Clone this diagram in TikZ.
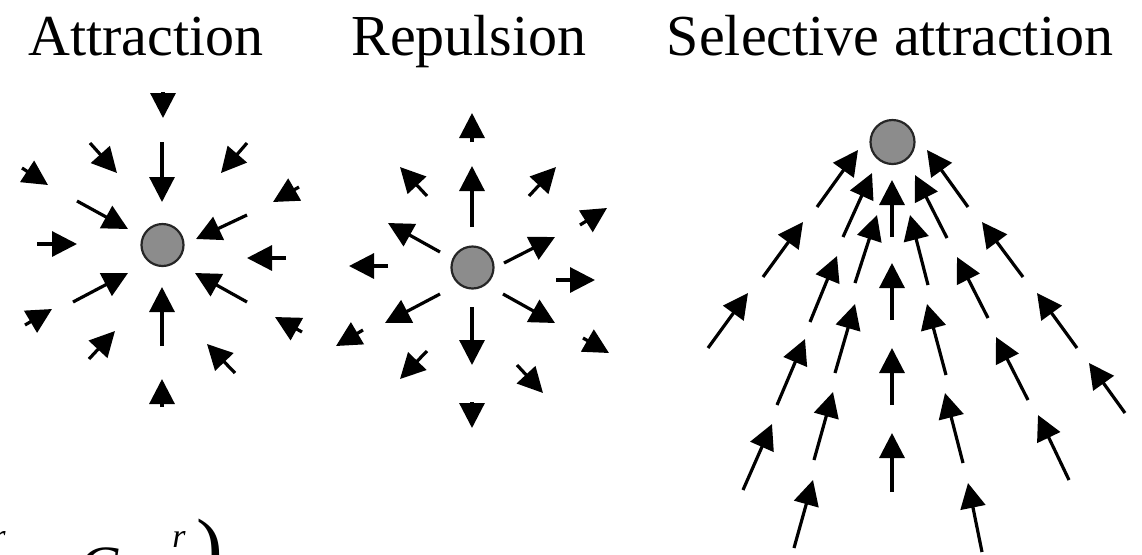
\documentclass[tikz,border=0pt]{standalone}
\usepackage{fontspec}
\setmainfont{Liberation Serif}
\usetikzlibrary{arrows.meta}
\tikzset{
  vec/.style={-{Triangle[length=12.5pt, width=12.5pt]}, line width=1.6pt},
  ball/.style={circle, draw=black!85, fill=black!45, line width=1.1pt, minimum size=21pt, inner sep=0pt},
  titulo/.style={font=\fontsize{29}{34}\selectfont, anchor=base},
  formula/.style={anchor=base west, inner sep=0pt}
}
\begin{document}
\begin{tikzpicture}[x=0.5pt, y=-0.5pt]
        \useasboundingbox (0,0) rectangle (1142,554);
        \clip (0,0) rectangle (1142,554);

        % Titulos
        \node[titulo] (tatr) at (146,55) {Attraction};
        \node[titulo] (trep) at (469,55) {Repulsion};
        \node[titulo] (tsel) at (890,55) {Selective attraction};

        % Atraccion
        \node[ball] (catr) at (162.5,245) {};
        \foreach \xa/\ya/\xb/\yb in {163/92/163/118, 162/142/162/202, 90/143/117/173, 22/168/48/185,
            77/201/128/229, 37/244/77/244, 73/302/128/273, 25/325/52/309, 89/359/115/331,
            162/346/162/287, 162/407/162/379, 235/373/207/344, 302/332/275/317, 247/302/195/273,
            286/258/247/258, 247/215/196/239, 299/187/273/202, 247/143/221/173}
            \draw[vec] (\xa,\ya) -- (\xb,\yb);

        % Repulsion
        \node[ball] (crep) at (472.5,267.5) {};
        \foreach \xa/\ya/\xb/\yb in {472/142/472/113, 472/227/472/166, 427/196/400/167, 529/196/556/167,
            580/225/607/208, 440/252/388/223, 504/263/555/237, 388/266/349/266, 556/280/595/280,
            440/294/385/323, 503/294/555/323, 363/330/336/346, 583/338/609/353, 472/307/472/365,
            427/351/400/379, 517/365/543/393, 472/402/472/428}
            \draw[vec] (\xa,\ya) -- (\xb,\yb);

        % Atraccion selectiva
        \node[ball, minimum size=22pt] (csel) at (892.5,142) {};
        \foreach \xa/\ya/\xb/\yb in {892/237/892/180, 892/320/892/263, 892/405/892/348, 892/492/892/433,
            843/237/872/173, 855/283/877/215, 810/322/837/256, 835/373/855/304, 777/405/805/339,
            814/460/833/392, 743/490/772/424, 794/548/813/480, 817/207/858/150, 763/277/803/222,
            708/348/748/293,
            947/238/915/175, 968/207/927/150, 928/285/910/215, 988/318/957/257, 1023/277/982/222,
            946/375/927/304, 1028/400/996/337, 1077/348/1037/293, 963/463/945/393, 1069/480/1038/415,
            1125/413/1089/363, 982/552/968/483}
            \draw[vec] (\xa,\ya) -- (\xb,\yb);

        % Formula cortada abajo
        \node[formula, font=\fontsize{17}{20}\selectfont\itshape] (fr1) at (-8,547) {r};
        \node[formula, font=\fontsize{30}{36}\selectfont\itshape] (fc) at (78,587) {C};
        \node[formula, font=\fontsize{17}{20}\selectfont\itshape] (fr2) at (172,547) {r};
        \node[formula, font=\fontsize{40}{48}\selectfont] (fpar) at (196,574) {)};
    \end{tikzpicture}
\end{document}
